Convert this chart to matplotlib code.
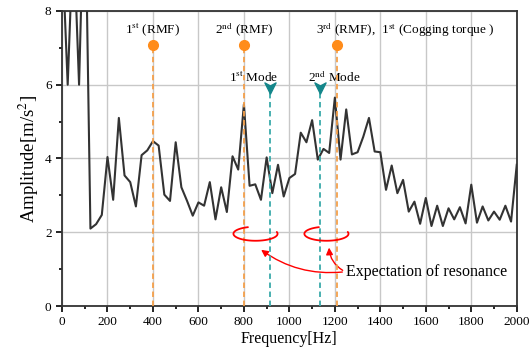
import numpy as np
import matplotlib
matplotlib.use('Agg')
import matplotlib.pyplot as plt
from matplotlib.path import Path

plt.rcParams['font.family'] = ['Liberation Serif', 'DejaVu Serif']
plt.rcParams['mathtext.fontset'] = 'stix'

# Spectrum, sampled every 25 Hz
freq = np.arange(0, 2001, 25)
amp = [9.8, 6.0, 10.2, 6.0, 11.9, 2.1, 2.22, 2.47, 4.04, 2.88,
       5.1, 3.54, 3.36, 2.7, 4.09, 4.22, 4.47, 4.35, 3.02, 2.85,
       4.44, 3.22, 2.85, 2.45, 2.81, 2.72, 3.36, 2.35, 3.22, 2.55,
       4.06, 3.7, 5.47, 3.26, 3.3, 2.88, 4.03, 3.06, 3.83, 2.97,
       3.47, 3.58, 4.7, 4.44, 5.04, 3.97, 4.26, 4.15, 5.65, 3.97,
       5.33, 4.11, 4.17, 4.59, 5.1, 4.19, 4.17, 3.15, 3.81, 3.06,
       3.42, 2.56, 2.83, 2.23, 2.93, 2.17, 2.72, 2.17, 2.65, 2.35,
       2.68, 2.24, 3.29, 2.26, 2.7, 2.32, 2.56, 2.34, 2.72, 2.29,
       3.83]

# Excitation frequencies (RMF harmonics) and structural modes
rmf_freq = [400, 800, 1210]
rmf_level = 7.07
rmf_labels = ['1$^{\\rm st}$ (RMF)', '2$^{\\rm nd}$ (RMF)',
              '3$^{\\rm rd}$ (RMF),  1$^{\\rm st}$ (Cogging torque )']
mode_freq = [916, 1136]
mode_level = 5.92
mode_labels = ['1$^{\\rm st}$ Mode', '2$^{\\rm nd}$ Mode']

# resonance ellipses (centre frequency), shared centre level
ring_freq = [851, 1163]
ring_level = 1.96

orange = '#FF8C1A'
teal = '#14868A'

# notched arrowhead pointing down, like the mode markers in the original
arrowhead = Path([(0, -1), (-1, 1), (0, 0.45), (1, 1), (0, -1)],
                 [Path.MOVETO, Path.LINETO, Path.LINETO, Path.LINETO, Path.CLOSEPOLY])

fig, ax = plt.subplots(figsize=(5.3, 3.53), dpi=100)
fig.subplots_adjust(left=0.117, right=0.975, top=0.969, bottom=0.133)

ax.plot(freq, amp, color='#333333', lw=1.5, zorder=3)

for f in rmf_freq:
    ax.plot([f, f], [0, rmf_level], color='#F5A04A', lw=1.3, ls=(0, (3, 2)), zorder=4)
    ax.plot(f, rmf_level, 'o', color=orange, ms=7, zorder=5)
for f in mode_freq:
    ax.plot([f, f], [0, mode_level], color='#3AAAAA', lw=1.3, ls=(0, (3, 2)), zorder=4)
    ax.plot(f, mode_level, marker=arrowhead, color=teal, ms=8, zorder=5)

ax.text(400, 7.5, rmf_labels[0], ha='center', va='center', fontsize=9.5)
ax.text(800, 7.5, rmf_labels[1], ha='center', va='center', fontsize=9.5)
ax.text(1118, 7.5, rmf_labels[2], ha='left', va='center', fontsize=9.5)
ax.text(845, 6.2, mode_labels[0], ha='center', va='center', fontsize=9.5)
ax.text(1199, 6.2, mode_labels[1], ha='center', va='center', fontsize=9.5)

# open ellipses (gap at the upper right) marking the expected resonance
t = np.radians(np.linspace(110, 375, 120))
for cx in ring_freq:
    ax.plot(cx + 97 * np.cos(t), ring_level + 0.19 * np.sin(t),
            color='red', lw=1.3, zorder=6, solid_capstyle='round')

ax.text(1248, 0.93, 'Expectation of resonance', ha='left', va='center', fontsize=11.5)
ax.annotate('', xy=(866, 1.57), xytext=(1245, 0.93),
            arrowprops=dict(arrowstyle='-|>', color='red', lw=1,
                            mutation_scale=10, connectionstyle='arc3,rad=-0.2'))
ax.annotate('', xy=(1174, 1.66), xytext=(1245, 0.93),
            arrowprops=dict(arrowstyle='-|>', color='red', lw=1,
                            mutation_scale=10, connectionstyle='arc3,rad=-0.3'))

ax.set_xlim(0, 2000)
ax.set_ylim(0, 8)
ax.set_xticks(np.arange(0, 2001, 200))
ax.set_xticks(np.arange(0, 2001, 100), minor=True)
ax.set_yticks([0, 2, 4, 6, 8])
ax.set_yticks(np.arange(0, 8.1, 1), minor=True)
ax.tick_params(which='both', direction='out', labelsize=9.5, width=1.2)
ax.tick_params(which='major', length=4)
ax.tick_params(which='minor', length=2.5)
ax.grid(True, which='major', color='#C8C8C8', lw=1)
ax.set_axisbelow(True)
for s in ax.spines.values():
    s.set_linewidth(1.3)
    s.set_color('#333333')

ax.set_xlabel('Frequency[Hz]', fontsize=11.5, labelpad=2)
ax.set_ylabel('Amplitude[m/s$^2$]', fontsize=13.5, labelpad=3)

fig.savefig('out.png', dpi=100)
